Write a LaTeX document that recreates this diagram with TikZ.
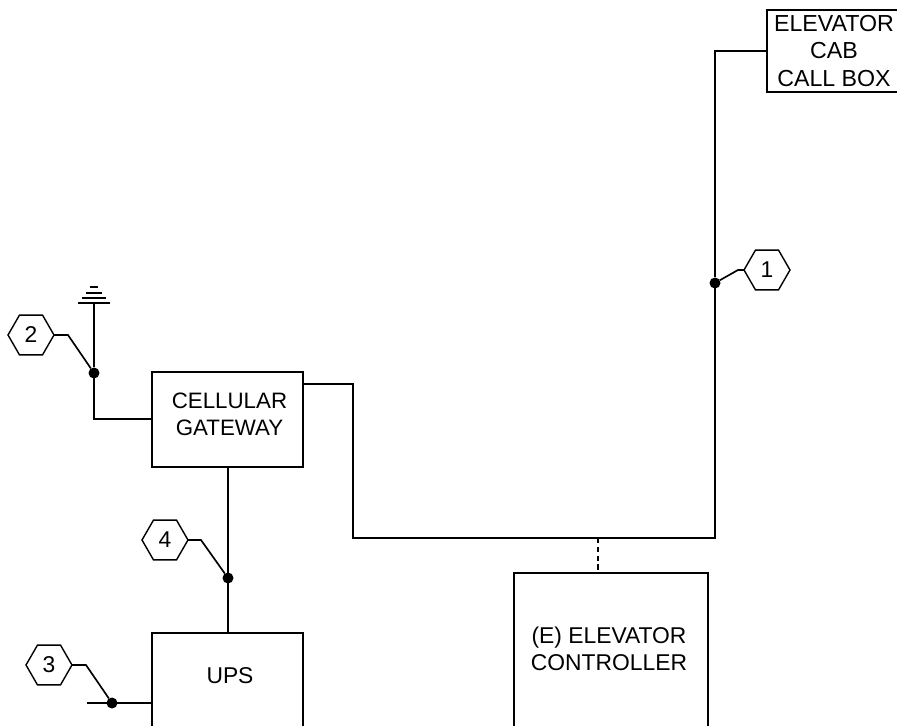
\documentclass[tikz,border=0pt]{standalone}
\usepackage{fontspec}
\setmainfont{Liberation Sans}
\usetikzlibrary{shapes.geometric, positioning, calc}

\begin{document}
\begin{tikzpicture}[x=0.02cm, y=-0.02cm,
  every node/.style={font=\fontsize{13}{15.5}\selectfont},
  box/.style={draw, rectangle, line width=1pt, inner sep=0pt, outer sep=0pt},
  tag/.style={draw, regular polygon, regular polygon sides=6, minimum size=0.92cm, inner sep=0pt, outer sep=0pt, line width=0.8pt},
  dot/.style={circle, fill=black, minimum size=0.22cm, inner sep=0pt, outer sep=0pt},
  wire/.style={line width=1pt},
  leader/.style={line width=0.95pt}]
\path[use as bounding box, clip] (0,0) rectangle (897,726);

% Equipment boxes
\node[box, minimum width=2.68cm, minimum height=1.64cm, align=center, font=\fontsize{13.2}{15.5}\selectfont] (callbox) at (834,51) {ELEVATOR\\CAB\\CALL BOX};
\node[box, minimum width=3.02cm, minimum height=1.9cm] (gateway) at (227.5,419.5) {};
\node[box, minimum width=3.02cm, minimum height=3cm] (ups) at (227.5,708) {};
\node[box, minimum width=3.88cm, minimum height=4cm] (controller) at (611,673) {};

% Box texts
\node[align=center, font=\fontsize{12.7}{15.5}\selectfont] (gatewaytext) at (229.5,414.5) {CELLULAR\\GATEWAY};
\node (upstext) at (230,676) {UPS};
\node[align=center] (controllertext) at (609,648.5) {(E) ELEVATOR\\CONTROLLER};

% Junctions
\node[dot] (dot1) at (715,283) {};
\node[dot] (dot2) at (94,373) {};
\node[dot] (dot3) at (112,703) {};
\node[dot] (dot4) at (228,578) {};

% Numbered tags
\node[tag] (tag1) at (767,270) {1};
\node[tag] (tag2) at (31,335) {2};
\node[tag] (tag3) at (49,665) {3};
\node[tag] (tag4) at (165,540) {4};

% Free ends
\coordinate (antenna) at (94,303);
\coordinate (gatewayin) at (152,419);
\coordinate (gatewayout) at (303,384);
\coordinate (buscorner) at (353,538);
\coordinate (busend) at (715,538);
\coordinate (bustap) at (598,538);
\coordinate (upsfeed) at (87,703);
\coordinate (upsin) at (152,703);

% Connections
\draw[wire] (callbox.west) -| (dot1);
\draw[wire] (dot1) -- (busend) -- (buscorner) |- (gatewayout);
\draw[wire, densely dashed] (bustap) -- (bustap |- controller.north);
\draw[wire] (antenna) -- (dot2);
\draw[wire] (dot2) |- (gatewayin);
\draw[wire] (dot4 |- gateway.south) -- (dot4);
\draw[wire] (dot4) -- (dot4 |- ups.north);
\draw[wire] (upsfeed) -- (dot3);
\draw[wire] (dot3) -- (upsin);

% Antenna bars
\draw[wire] (78,303) -- (110,303);
\draw[wire] (82,298) -- (106,298);
\draw[wire] (86,293) -- (102,293);
\draw[wire] (90,287) -- (98,287);

% Leaders
\draw[leader] (tag1.west) -- (738,270) -- (dot1);
\draw[leader] (tag2.east) -- (68,335) -- (dot2);
\draw[leader] (tag3.east) -- (86,665) -- (dot3);
\draw[leader] (tag4.east) -- (201,540) -- (dot4);
\end{tikzpicture}
\end{document}
